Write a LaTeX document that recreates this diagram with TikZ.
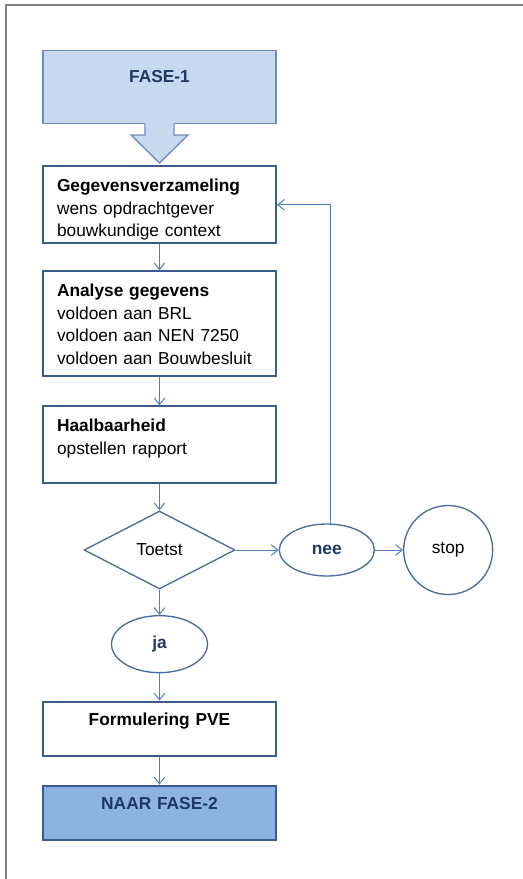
\documentclass[tikz,border=0pt]{standalone}
\usepackage{fontspec}
\setmainfont{Liberation Sans}
\usetikzlibrary{arrows.meta,positioning,shapes.geometric,calc}

\definecolor{boxline}{RGB}{56,93,138}
\definecolor{ovalline}{RGB}{72,108,160}
\definecolor{arrowblue}{RGB}{79,129,189}
\definecolor{navy}{RGB}{31,56,100}
\definecolor{fasefill}{RGB}{198,217,241}
\definecolor{faseline}{RGB}{108,142,191}
\definecolor{naarfill}{RGB}{141,179,226}
\definecolor{framegray}{RGB}{128,128,128}

\newcommand\boxfont{\fontsize{13}{16.9}\selectfont}

\begin{document}
\begin{tikzpicture}[
  x=0.75pt, y=-0.75pt,
  font=\boxfont,
  node distance=20pt and 32pt,
  box/.style={draw=boxline, line width=1.5pt, fill=white, align=left,
              text width=153.75pt, inner xsep=10.5pt, inner ysep=0pt,
              text height=19pt, text depth=38.75pt},
  midbox/.style={box, align=center, font=\boxfont\bfseries,
                 text height=18pt, text depth=23pt},
  oval/.style={ellipse, draw=ovalline, line width=1pt, inner sep=0pt,
               minimum width=71.25pt, minimum height=39pt},
  arr/.style={draw=arrowblue, line width=0.75pt,
              -{Straight Barb[length=5pt,width=8pt]}}
]
\useasboundingbox (0,0) rectangle (523,879);
\draw[framegray, line width=1.5pt] (6,879) -- (6,4.5) -- (523,4.5);

% fase 1 with its arrow
\node[box, fill=fasefill, draw=faseline, line width=1pt, align=center,
      font=\boxfont\bfseries, text=navy, text height=23.5pt, text depth=31pt]
      (fase1) at (159.5,87) {FASE-1};
\fill[fasefill] ($(fase1.south)+(-14.5,-1.5)$) -- ++(0,12.5) -- ++(-14,0)
  -- ($(fase1.south)+(0,39)$) -- ($(fase1.south)+(28.5,11)$) -- ++(-14,0)
  -- ++(0,-12.5) -- cycle;
\draw[faseline, line width=1pt] ($(fase1.south)+(-14.5,0)$) -- ++(0,11) -- ++(-14,0)
  -- ($(fase1.south)+(0,39)$) -- ($(fase1.south)+(28.5,11)$) -- ++(-14,0) -- ++(0,-11);

\node[box, below=31pt of fase1] (geg)
  {\textbf{Gegevensverzameling}\\wens opdrachtgever\\bouwkundige context};
\node[box, below=19.5pt of geg, text depth=59.75pt] (ana)
  {\textbf{Analyse gegevens}\\voldoen aan BRL\\voldoen aan NEN 7250\\voldoen aan Bouwbesluit};
\node[box, below=21pt of ana] (haal)
  {\textbf{Haalbaarheid}\\opstellen rapport};
\node[diamond, draw=ovalline, line width=1pt, inner sep=0pt, aspect=2,
      minimum width=113.25pt, minimum height=58.5pt, below=19.5pt of haal] (toets) {Toetst};
\node[oval, right=32.25pt of toets, font=\boxfont\bfseries, text=navy] (nee) {nee};
\node[circle, draw=ovalline, line width=1pt, minimum size=66.75pt, inner sep=0pt,
      right=21pt of nee] (stop) {stop};
\node[oval, below=19pt of toets, minimum width=72pt, minimum height=42.75pt,
      font=\boxfont\bfseries, text=navy] (ja) {ja};
\node[midbox, below=20.5pt of ja] (form) {Formulering PVE};
\node[midbox, below=20.5pt of form, fill=naarfill, text=navy, text depth=22.5pt] (naar) {NAAR FASE-2};

\draw[arr] (geg) -- (ana);
\draw[arr] (ana) -- (haal);
\draw[arr] (haal) -- (toets);
\draw[arr] (toets) -- (nee);
\draw[arr] (nee) -- (stop);
\draw[arr] ([xshift=2.5pt]nee.north) |- (geg.east);
\draw[arr] (toets) -- (ja);
\draw[arr] (ja) -- (form);
\draw[arr] (form) -- (naar);
\end{tikzpicture}
\end{document}
